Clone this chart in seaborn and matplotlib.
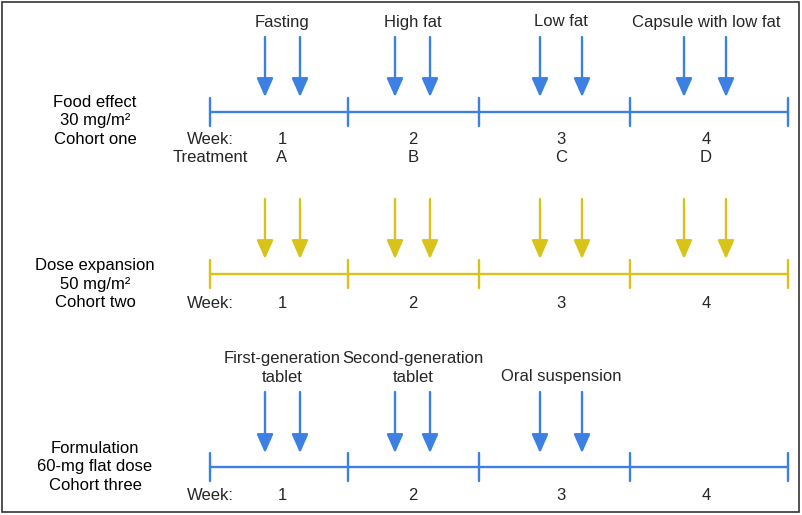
import matplotlib
matplotlib.use("Agg")
import matplotlib.pyplot as plt
import seaborn as sns
import pandas as pd
from matplotlib.patches import Rectangle

sns.set_theme(style="white")
plt.rcParams['font.family'] = ['Liberation Sans', 'DejaVu Sans']

# ---- data (diagram coordinates) ----
week_bounds = [210, 348, 479, 630, 788]          # week boundary ticks
week_centers = [282, 413, 561, 706]              # week label positions
week_labels = ["1", "2", "3", "4"]
treatment_labels = ["A", "B", "C", "D"]
arrow_x = [[265, 300], [395, 430], [540, 582], [684, 726]]

cohort_names = ["Food effect\n30 mg/m²\nCohort one",
                "Dose expansion\n50 mg/m²\nCohort two",
                "Formulation\n60-mg flat dose\nCohort three"]
cohort_line_y = [112, 274, 467]
cohort_colors = ["#3b80e2", "#d8c31a", "#3b80e2"]
arrow_top = [37, 199, 392]
arrow_tip = [97, 259, 453]
cohort_arrows_weeks = [[0, 1, 2, 3], [0, 1, 2, 3], [0, 1, 2]]
cohort_text_y = [121, 284, 467]
week_row_y = [140, 303, 496]

food_labels = ["Fasting", "High fat", "Low fat", "Capsule with low fat"]
food_label_y = 22
form_labels = ["First-generation\ntablet", "Second-generation\ntablet", "Oral suspension"]
form_label_y = 368

# ---- figure ----
fig = plt.figure(figsize=(8.03, 5.15), dpi=100)
ax = fig.add_axes([0, 0, 1, 1])
ax.set_xlim(0, 803)
ax.set_ylim(515, 0)
ax.axis("off")

ax.add_patch(Rectangle((2, 2), 797, 510, fill=False, edgecolor="#333333", lw=1.2))

fs = 12
for i in range(3):
    col = cohort_colors[i]
    y0 = cohort_line_y[i]
    df = pd.DataFrame({"x": [week_bounds[0], week_bounds[-1]], "y": [y0, y0]})
    sns.lineplot(data=df, x="x", y="y", ax=ax, color=col, lw=1.7, legend=False)
    for xb in week_bounds:
        ax.plot([xb, xb], [y0 - 14, y0 + 14], color=col, lw=1.7)
    for w in cohort_arrows_weeks[i]:
        for xa in arrow_x[w]:
            ax.annotate("", xy=(xa, arrow_tip[i]), xytext=(xa, arrow_top[i]),
                        arrowprops=dict(arrowstyle="-|>,head_length=0.95,head_width=0.42",
                                        color=col, lw=1.7, shrinkA=0, shrinkB=0))
    ax.text(95, cohort_text_y[i], cohort_names[i], ha="center", va="center",
            fontsize=fs, linespacing=1.28, color="black")
    ax.text(210, week_row_y[i], "Week:", ha="center", va="center", fontsize=fs)
    for xc, lab in zip(week_centers, week_labels):
        ax.text(xc, week_row_y[i], lab, ha="center", va="center", fontsize=fs)

ax.text(210, 158, "Treatment", ha="center", va="center", fontsize=fs)
for xc, lab in zip(week_centers, treatment_labels):
    ax.text(xc, 158, lab, ha="center", va="center", fontsize=fs)

for xc, lab in zip(week_centers, food_labels):
    ax.text(xc, food_label_y, lab, ha="center", va="center", fontsize=fs)
for k, (xc, lab) in enumerate(zip(week_centers, form_labels)):
    yy = form_label_y if "\n" in lab else 377
    ax.text(xc, yy, lab, ha="center", va="center", fontsize=fs, linespacing=1.28)

fig.savefig("out.png", dpi=100)
